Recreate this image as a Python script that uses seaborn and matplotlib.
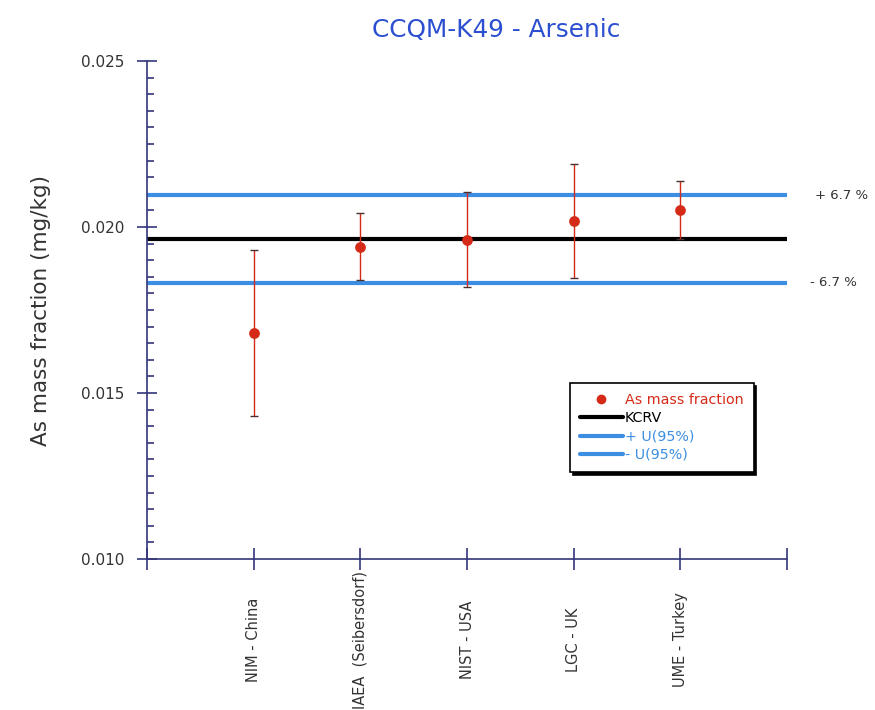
import matplotlib
matplotlib.use("Agg")
import matplotlib.pyplot as plt
from matplotlib.ticker import MultipleLocator, FixedLocator, FormatStrFormatter
from matplotlib.lines import Line2D
import seaborn as sns
import pandas as pd

# Participant results for arsenic (mg/kg)
labs = ["NIM - China", "IAEA  (Seibersdorf)", "NIST - USA", "LGC - UK", "UME - Turkey"]
values = [0.01681, 0.01940, 0.01961, 0.02018, 0.02051]
uncert = [0.00250, 0.00101, 0.00143, 0.00172, 0.00088]
kcrv = 0.01964
rel_u = 0.067

sns.set_style("white")
plt.rcParams["font.family"] = ["DejaVu Sans"]

axis_col = "#34367a"
red = "#d42a17"
blue = "#3b8ee2"
text_col = "#333333"

fig = plt.figure(figsize=(8.75, 7.1), dpi=100)
ax = fig.add_axes([147 / 875, 1 - 559 / 710, (787 - 147) / 875, (559 - 61) / 710])

df = pd.DataFrame({"pos": range(1, len(labs) + 1), "value": values, "u": uncert})

# reference value and expanded-uncertainty band
ax.axhline(kcrv * (1 + rel_u), color=blue, lw=3, zorder=1)
ax.axhline(kcrv * (1 - rel_u), color=blue, lw=3, zorder=1)
ax.axhline(kcrv, color="black", lw=3, zorder=1)

eb = ax.errorbar(df["pos"], df["value"], yerr=df["u"], fmt="none",
                 ecolor=red, elinewidth=1.0, capsize=3, capthick=1.0, zorder=2)
for cap in eb[1]:
    cap.set_markeredgecolor("#4a3030")
sns.scatterplot(data=df, x="pos", y="value", ax=ax, color=red, s=60,
                edgecolor=red, linewidth=0, zorder=3, legend=False)

ax.set_xlim(0, 6)
ax.set_ylim(0.010, 0.025)

ax.xaxis.set_major_locator(FixedLocator(range(0, 7)))
ax.set_xticklabels([""] + labs + [""])
ax.yaxis.set_major_locator(MultipleLocator(0.005))
ax.yaxis.set_minor_locator(MultipleLocator(0.0005))
ax.yaxis.set_major_formatter(FormatStrFormatter("%.3f"))

for sp in ["top", "right"]:
    ax.spines[sp].set_visible(False)
for sp in ["left", "bottom"]:
    ax.spines[sp].set_color(axis_col)
    ax.spines[sp].set_linewidth(1.2)

ax.tick_params(axis="y", which="major", direction="inout", length=14, width=1.2,
               color=axis_col, labelsize=11, labelcolor=text_col, pad=9, left=True)
ax.tick_params(axis="y", which="minor", direction="in", length=5, width=1.2,
               color=axis_col, left=True)
ax.tick_params(axis="x", which="major", direction="inout", length=16, width=1.2,
               color=axis_col, labelsize=10.5, labelcolor=text_col, pad=50, bottom=True)
for lbl in ax.get_xticklabels():
    lbl.set_rotation(90)
    lbl.set_va("center")
    lbl.set_ha("center")

ax.set_xlabel("")
ax.set_ylabel("As mass fraction (mg/kg)", fontsize=15.5, color=text_col, labelpad=22)

fig.text(496 / 875, 1 - 30 / 710, "CCQM-K49 - Arsenic", ha="center", va="center",
         fontsize=17.8, color="#2b4fd0")

ax.text(1.043, kcrv * (1 + rel_u), "+ 6.7 %", transform=ax.get_yaxis_transform(),
        va="center", ha="left", fontsize=9.5, color=text_col)
ax.text(1.036, kcrv * (1 - rel_u), "- 6.7 %", transform=ax.get_yaxis_transform(),
        va="center", ha="left", fontsize=9.5, color=text_col)

handles = [
    Line2D([], [], ls="none", marker="o", color=red, markersize=6),
    Line2D([], [], color="black", lw=3),
    Line2D([], [], color=blue, lw=3),
    Line2D([], [], color=blue, lw=3),
]
leg = ax.legend(handles, ["As mass fraction", "KCRV", "+ U(95%)", "- U(95%)"],
                loc="upper left", bbox_to_anchor=((570 - 147) / 640, 1 - (383 - 61) / 498),
                frameon=True, fancybox=False, shadow={"color": "black", "alpha": 1},
                edgecolor="black", fontsize=10.3, handlelength=3.0, handletextpad=0.15,
                labelspacing=0.3, borderpad=0.7, borderaxespad=0)
leg.get_frame().set_linewidth(1.2)
for txt, c in zip(leg.get_texts(), [red, "black", blue, blue]):
    txt.set_color(c)

fig.savefig("out.png", dpi=100)
